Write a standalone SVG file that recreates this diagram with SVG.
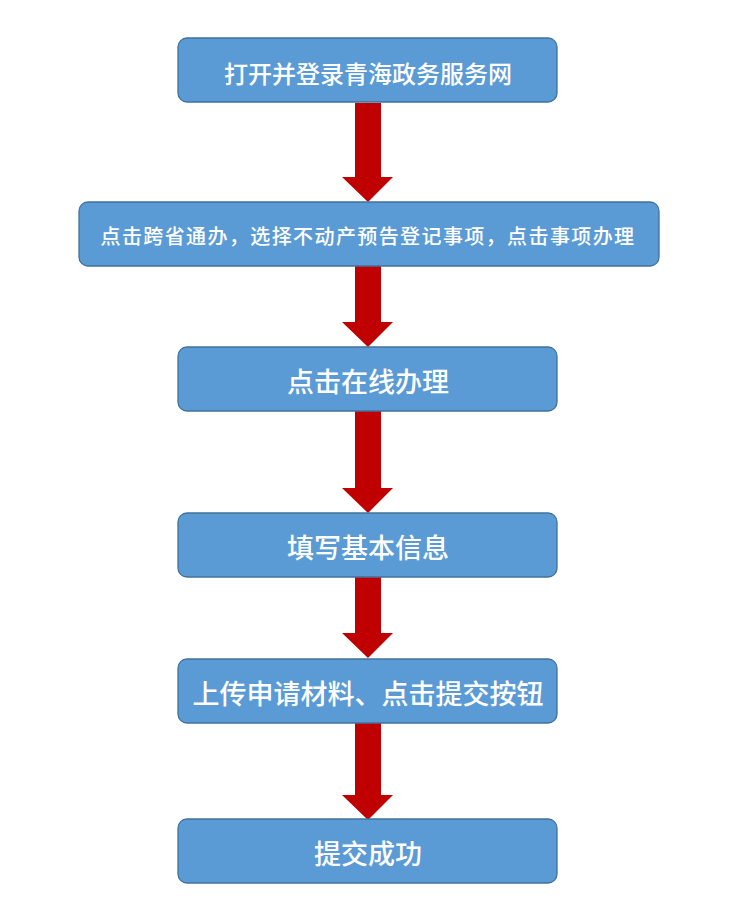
<svg xmlns="http://www.w3.org/2000/svg" width="738" height="913" viewBox="0 0 738 913">
<style>
.box{fill:#5B9BD5;stroke:#41719C;stroke-width:1.3}
.t{fill:#ffffff;font-family:"Noto Sans CJK SC","Noto Sans",sans-serif;font-weight:500;text-anchor:middle;dominant-baseline:central}
.arr{fill:#C00000}
</style>
<rect width="738" height="913" fill="#ffffff"/>
<g id="connectors">
<path class="arr" d="M355,103 H381 V177 H393 L368,202 L342,177 H355 Z"/>
<path class="arr" d="M355,266 H381 V322 H393 L368,347 L342,322 H355 Z"/>
<path class="arr" d="M355,411 H381 V488 H393 L368,513 L342,488 H355 Z"/>
<path class="arr" d="M355,577 H381 V633 H393 L368,658 L342,633 H355 Z"/>
<path class="arr" d="M355,723 H381 V795 H393 L368,820 L342,795 H355 Z"/>
</g>
<g id="n1"><rect class="box" x="178" y="38" width="379" height="64" rx="9"/><text class="t" x="368" y="72" font-size="24">打开并登录青海政务服务网</text></g>
<g id="n2"><rect class="box" x="79" y="202" width="580" height="64" rx="9"/><text class="t" x="368" y="235" font-size="20" letter-spacing="1.4">点击跨省通办，选择不动产预告登记事项，点击事项办理</text></g>
<g id="n3"><rect class="box" x="178" y="347" width="379" height="64" rx="9"/><text class="t" x="368" y="380" font-size="27">点击在线办理</text></g>
<g id="n4"><rect class="box" x="178" y="513" width="379" height="64" rx="9"/><text class="t" x="368" y="546" font-size="27">填写基本信息</text></g>
<g id="n5"><rect class="box" x="178" y="659" width="379" height="64" rx="9"/><text class="t" x="368" y="692" font-size="27">上传申请材料、点击提交按钮</text></g>
<g id="n6"><rect class="box" x="178" y="819" width="379" height="64" rx="9"/><text class="t" x="368" y="852" font-size="27">提交成功</text></g>
</svg>
